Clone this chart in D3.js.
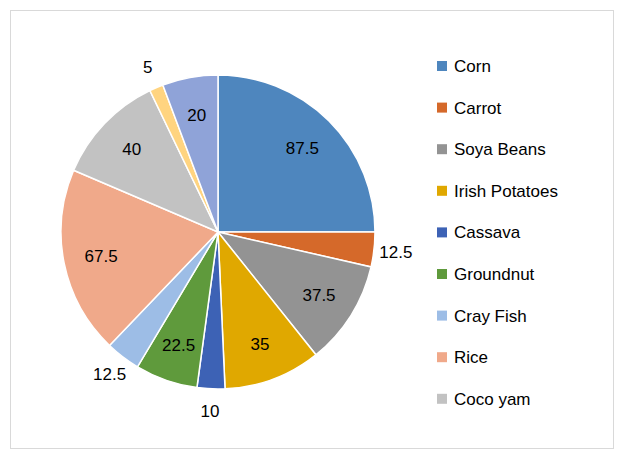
<!DOCTYPE html>
<html><head><meta charset="utf-8">
<script src="https://cdn.jsdelivr.net/npm/d3@7"></script>
<style>body{margin:0;background:#fff}text{font-family:"Liberation Sans",Arial,sans-serif}</style>
</head><body>
<svg id="chart" width="625" height="460"></svg>
<script>
// slice categories and values, in clockwise order from 12 o'clock
var categories = ["Corn", "Carrot", "Soya Beans", "Irish Potatoes", "Cassava", "Groundnut", "Cray Fish", "Rice", "Coco yam", "Other 1", "Other 2"];
var values = [87.5, 12.5, 37.5, 35, 10, 22.5, 12.5, 67.5, 40, 5, 20];
var colors = ["#4e86be", "#d5692a", "#939393", "#e0a800", "#3d62b5", "#5f9a3c", "#9dbde6", "#f0a98a", "#c2c2c2", "#ffd480", "#8fa3d8"];
var legendCount = 9; // legend is clipped after Coco yam

var svg = d3.select("#chart");
svg.append("rect").attr("x", 10.5).attr("y", 10.5).attr("width", 603).attr("height", 438)
    .attr("fill", "#fff").attr("stroke", "#d9d9d9");

var cx = 218, cy = 232, r = 157;
var data = categories.map(function(c, i) { return {name: c, value: values[i], color: colors[i]}; });

var pie = d3.pie().sort(null).value(function(d) { return d.value; });
var arc = d3.arc().innerRadius(0).outerRadius(r);
var arcs = pie(data);

var g = svg.append("g").attr("transform", "translate(" + cx + "," + cy + ")");
g.selectAll("path").data(arcs).enter().append("path")
    .attr("d", arc)
    .attr("fill", function(d) { return d.data.color; })
    .attr("stroke", "#fff").attr("stroke-width", 1.5);

// small slices get their label outside the pie
g.selectAll("text").data(arcs).enter().append("text")
    .attr("transform", function(d) {
      var a = (d.startAngle + d.endAngle) / 2;
      var k = d.data.value <= 12.5 ? 1.14 : 0.76;
      return "translate(" + (Math.sin(a) * r * k) + "," + (-Math.cos(a) * r * k) + ")";
    })
    .attr("text-anchor", "middle").attr("dy", "0.35em")
    .attr("font-size", 17).attr("fill", "#000")
    .text(function(d) { return d.data.value; });

var legend = svg.append("g").selectAll("g").data(data.slice(0, legendCount)).enter().append("g")
    .attr("transform", function(d, i) { return "translate(437," + (66 + i * 41.6) + ")"; });
legend.append("rect").attr("x", 0).attr("y", -5).attr("width", 10).attr("height", 10)
    .attr("fill", function(d) { return d.color; });
legend.append("text").attr("x", 17).attr("dy", "0.35em").attr("font-size", 17).attr("fill", "#000")
    .text(function(d) { return d.name; });
</script>
</body></html>
